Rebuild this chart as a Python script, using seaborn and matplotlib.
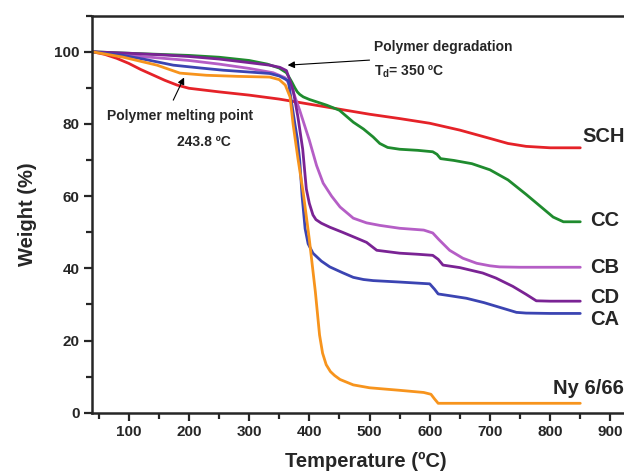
# TGA curves of nylon 6/66 composites

import matplotlib
matplotlib.use('Agg')
import matplotlib.pyplot as plt
from matplotlib.ticker import MultipleLocator
import pandas as pd
import seaborn as sns

# (temperature in degC, weight in %)
sch_t = [40, 60, 80, 100, 120, 140, 160, 180, 200, 250, 300, 350, 400, 450, 500, 550, 600, 650, 700, 730, 760, 800, 850]
sch_w = [100, 99.3, 98.2, 96.8, 95.1, 93.6, 92.1, 90.8, 89.9, 88.9, 88.0, 86.9, 85.5, 84.1, 82.7, 81.5, 80.2, 78.3, 76.0, 74.6, 73.8, 73.4, 73.4]

cc_t = [40, 100, 150, 200, 250, 300, 330, 350, 362, 371, 376, 380, 384, 390, 400, 429, 450, 473, 490, 506, 517, 530, 550, 580, 605, 612, 618, 640, 670, 700, 730, 760, 785, 805, 822, 850]
cc_w = [100, 99.6, 99.3, 99.0, 98.5, 97.6, 96.6, 95.5, 94.2, 91.6, 90.0, 88.9, 88.2, 87.5, 86.8, 85.2, 83.8, 80.5, 78.6, 76.4, 74.6, 73.5, 73.0, 72.7, 72.3, 71.6, 70.4, 69.9, 69.0, 67.3, 64.5, 60.5, 57.0, 54.2, 52.9, 52.9]

cb_t = [40, 100, 150, 200, 250, 300, 340, 360, 372, 384, 400, 412, 423, 437, 451, 473, 495, 517, 550, 590, 605, 615, 633, 655, 678, 700, 716, 750, 800, 850]
cb_w = [100, 99.0, 98.3, 97.6, 96.6, 95.4, 94.2, 92.8, 89.5, 83.8, 75.5, 68.5, 63.6, 60.0, 57.0, 53.9, 52.6, 51.9, 51.1, 50.6, 49.8, 48.0, 45.0, 42.8, 41.4, 40.7, 40.4, 40.3, 40.3, 40.3]

cd_t = [40, 100, 150, 200, 250, 300, 334, 351, 362, 373, 381, 389, 395, 400, 406, 411, 420, 434, 455, 478, 495, 512, 550, 580, 605, 614, 622, 650, 688, 710, 738, 760, 777, 800, 850]
cd_w = [100, 99.6, 99.2, 98.7, 98.0, 97.0, 96.3, 95.7, 94.8, 89.4, 82.0, 73.0, 62.0, 58.0, 54.8, 53.5, 52.5, 51.4, 50.0, 48.4, 47.2, 45.0, 44.2, 43.9, 43.6, 42.5, 40.9, 40.2, 38.7, 37.3, 35.0, 32.8, 31.0, 30.9, 30.9]

ca_t = [40, 91, 130, 174, 220, 257, 300, 334, 350, 365, 376, 380, 384, 388, 393, 398, 406, 420, 434, 455, 473, 490, 506, 550, 600, 608, 614, 630, 661, 690, 720, 744, 760, 800, 850]
ca_w = [100, 99.0, 97.8, 96.3, 95.5, 94.9, 94.4, 94.0, 93.3, 92.0, 80.0, 76.0, 70.0, 60.0, 51.0, 46.8, 44.2, 42.0, 40.4, 38.8, 37.5, 36.9, 36.6, 36.2, 35.7, 34.2, 32.9, 32.5, 31.7, 30.5, 29.0, 27.8, 27.6, 27.5, 27.5]

ny_t = [40, 91, 147, 185, 229, 280, 334, 350, 360, 368, 373, 381, 390, 400, 410, 417, 422, 428, 435, 442, 451, 473, 500, 550, 590, 602, 608, 614, 650, 700, 800, 850]
ny_w = [100, 98.5, 96.3, 94.1, 93.5, 93.2, 93.0, 92.3, 90.8, 87.5, 80.0, 70.5, 60.8, 48.0, 33.5, 21.5, 16.5, 13.3, 11.4, 10.3, 9.2, 7.7, 6.9, 6.2, 5.6, 5.1, 3.8, 2.6, 2.6, 2.6, 2.6, 2.6]

samples = ['SCH', 'CC', 'CB', 'CD', 'CA', 'Ny 6/66']
colors = ['#e52228', '#1f8b2e', '#b55ec6', '#7a2394', '#3b44b2', '#f7941d']
label_pos = [(853, 76.4), (866, 53.3), (866, 40.3), (866, 32.0), (866, 25.9), (804, 6.8)]

curves = [(sch_t, sch_w), (cc_t, cc_w), (cb_t, cb_w), (cd_t, cd_w), (ca_t, ca_w), (ny_t, ny_w)]
frames = []
for name, (t, w) in zip(samples, curves):
    frames.append(pd.DataFrame({'T': t, 'W': w, 'sample': name}))
df = pd.concat(frames, ignore_index=True)

sns.set_style('ticks')
plt.rcParams['font.family'] = ['Liberation Sans', 'DejaVu Sans']
plt.rcParams['font.weight'] = 'bold'
plt.rcParams['mathtext.default'] = 'regular'

fig = plt.figure(figsize=(6.24, 4.75), dpi=100)
ax = fig.add_axes([0.1474, 0.1312, 0.879, 0.8357])

sns.lineplot(data=df, x='T', y='W', hue='sample', hue_order=samples,
             palette=colors, sort=False, estimator=None, legend=False,
             linewidth=2.0, ax=ax)
for ln in ax.get_lines():
    ln.set_solid_joinstyle('round')

ax.set_xlim(39, 950)
ax.set_ylim(0, 110)
ax.xaxis.set_minor_locator(MultipleLocator(50))
ax.yaxis.set_minor_locator(MultipleLocator(10))
ax.set_xticks(range(100, 1000, 100))
ax.set_yticks(range(0, 101, 20))
ax.tick_params(which='major', length=6, width=1.6, labelsize=11, pad=3)
ax.tick_params(which='minor', length=4, width=1.6)
for lab in ax.get_xticklabels() + ax.get_yticklabels():
    lab.set_fontweight('bold')
for s in ax.spines.values():
    s.set_linewidth(1.8)

ax.set_xlabel('Temperature (ºC)', fontsize=14.5, fontweight='bold', labelpad=9)
ax.set_ylabel('Weight (%)', fontsize=14.5, fontweight='bold', labelpad=12)

for name, (x, y) in zip(samples, label_pos):
    ax.text(x, y, name, fontsize=14.5, fontweight='bold', va='center', ha='left')

ax.text(507, 101.3, 'Polymer degradation', fontsize=10, fontweight='bold', va='center')
ax.text(507, 94.4, r'T$_{d}$= 350 ºC', fontsize=10, fontweight='bold', va='center')
ax.annotate('', xy=(364, 96.3), xytext=(500, 97.7),
            arrowprops=dict(arrowstyle='-|>', color='black', lw=0.8, mutation_scale=10,
                            shrinkA=0, shrinkB=0))

ax.text(64, 82.2, 'Polymer melting point', fontsize=10, fontweight='bold', va='center')
ax.text(180, 75.0, '243.8 ºC', fontsize=10, fontweight='bold', va='center')
ax.annotate('', xy=(192, 92.9), xytext=(174, 86.6),
            arrowprops=dict(arrowstyle='-|>', color='black', lw=0.8, mutation_scale=10,
                            shrinkA=0, shrinkB=0))

plt.savefig('out.png', dpi=100)
